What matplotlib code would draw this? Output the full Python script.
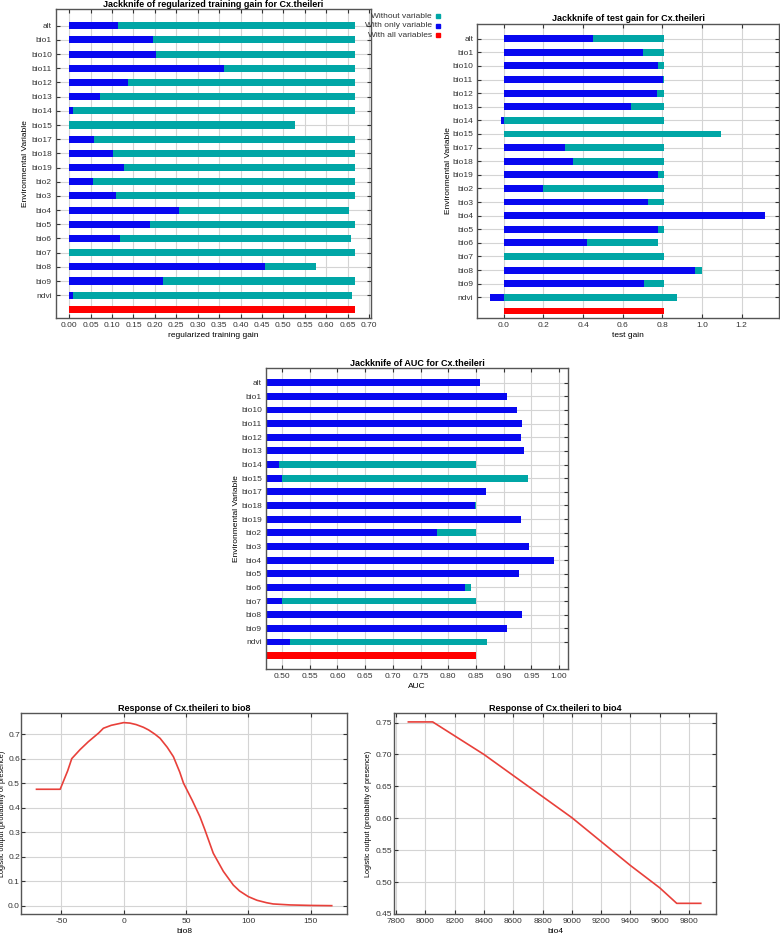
import matplotlib
matplotlib.use('Agg')
import matplotlib.pyplot as plt
from matplotlib.patches import Rectangle
import numpy as np

plt.rcParams['font.family'] = ['Liberation Sans', 'DejaVu Sans']
plt.rcParams['font.size'] = 6
plt.rcParams['axes.unicode_minus'] = False

variables = ['alt', 'bio1', 'bio10', 'bio11', 'bio12', 'bio13', 'bio14', 'bio15', 'bio17', 'bio18',
             'bio19', 'bio2', 'bio3', 'bio4', 'bio5', 'bio6', 'bio7', 'bio8', 'bio9', 'ndvi']

# regularized training gain
train_without = [0.668, 0.668, 0.668, 0.668, 0.668, 0.668, 0.668, 0.527, 0.668, 0.668,
                 0.668, 0.668, 0.668, 0.653, 0.668, 0.657, 0.668, 0.576, 0.668, 0.660]
train_only = [0.114, 0.195, 0.202, 0.361, 0.137, 0.072, 0.009, 0.0, 0.057, 0.102,
              0.128, 0.055, 0.108, 0.257, 0.188, 0.118, 0.0, 0.457, 0.220, 0.009]
train_all = 0.668

# test gain
test_without = [0.807, 0.807, 0.807, 0.807, 0.807, 0.807, 0.807, 1.097, 0.807, 0.807,
                0.807, 0.807, 0.807, 0.677, 0.807, 0.778, 0.807, 0.998, 0.807, 0.874]
test_only = [0.450, 0.702, 0.778, 0.802, 0.773, 0.640, -0.015, 0.0, 0.309, 0.348,
             0.776, 0.197, 0.726, 1.319, 0.776, 0.418, 0.0, 0.963, 0.706, -0.068]
test_all = 0.807

# AUC
auc_without = [0.850, 0.850, 0.850, 0.850, 0.850, 0.850, 0.850, 0.943, 0.850, 0.850,
               0.850, 0.850, 0.850, 0.812, 0.850, 0.841, 0.850, 0.915, 0.850, 0.869]
auc_only = [0.857, 0.906, 0.924, 0.933, 0.931, 0.937, 0.495, 0.500, 0.868, 0.848,
            0.931, 0.779, 0.945, 0.991, 0.927, 0.830, 0.500, 0.933, 0.906, 0.514]
auc_all = 0.850

# response curves
bio8_x = [-70, -51, -45, -41.7, -35, -28.4, -20, -16.3, -10, 0, 5, 10, 15.8, 20, 25, 29.2, 35,
          39.9, 45, 48, 55, 61.2, 65, 71.9, 80, 88, 93, 100, 107, 114.7, 120, 133.5, 150, 167]
bio8_y = [0.475, 0.475, 0.550, 0.600, 0.637, 0.669, 0.705, 0.724, 0.736, 0.747, 0.745, 0.739,
          0.728, 0.717, 0.700, 0.683, 0.646, 0.608, 0.545, 0.500, 0.430, 0.363, 0.312, 0.214,
          0.140, 0.084, 0.060, 0.037, 0.022, 0.012, 0.007, 0.003, 0.001, 0.0]
bio4_x = [7884, 8050, 8400, 9000, 9400, 9600, 9716, 9880]
bio4_y = [0.751, 0.751, 0.700, 0.601, 0.526, 0.491, 0.4667, 0.4667]

TEAL = '#00a6a6'
BLUE = '#0808f0'
RED = '#ff0000'
LINE = '#e8403a'

W, H = 780, 936
fig = plt.figure(figsize=(W / 100, H / 100), dpi=100)


def rect(l, t, r, b):
    return [l / W, 1 - b / H, (r - l) / W, (b - t) / H]


def style(ax):
    ax.grid(True, color='#d4d4d4', linewidth=0.8)
    ax.set_axisbelow(True)
    ax.tick_params(direction='in', length=3, top=True, right=True, labelsize=6,
                   colors='#333333', pad=3)
    for s in ax.spines.values():
        s.set_color('#555555')
        s.set_linewidth(1.0)


def jackknife(ax, without, only, allv, title, xlabel, xlim, ylim, ticks, fmt, ylab_x):
    n = len(variables)
    pos = np.arange(n)
    ax.barh(pos, without, height=0.5, color=TEAL)
    ax.barh(pos, only, height=0.5, color=BLUE)
    ax.barh(n, allv, height=0.5, color=RED)
    ax.set_yticks(pos)
    ax.set_yticklabels(variables)
    ax.set_xticks(ticks)
    ax.set_xticklabels([fmt % t for t in ticks])
    ax.set_xlim(xlim)
    ax.set_ylim(ylim)
    ax.set_title(title, fontsize=6.5, fontweight='bold', pad=2)
    ax.set_xlabel(xlabel, fontsize=6, labelpad=2)
    ax.set_ylabel('Environmental Variable', fontsize=6)
    ax.yaxis.set_label_coords(ylab_x, 0.5)
    style(ax)


ax1 = fig.add_axes(rect(56, 9.3, 370.7, 318.3))
jackknife(ax1, train_without, train_only, train_all,
          'Jackknife of regularized training gain for Cx.theileri', 'regularized training gain',
          (-0.031, 0.704), (20.63, -1.16), np.arange(0, 0.701, 0.05), '%.2f', -0.086)

ax2 = fig.add_axes(rect(477.3, 23.7, 779, 318.3))
jackknife(ax2, test_without, test_only, test_all,
          'Jackknife of test gain for Cx.theileri', 'test gain',
          (-0.133, 1.388), (20.54, -1.10), np.arange(0, 1.21, 0.2), '%.1f', -0.085)

ax3 = fig.add_axes(rect(266, 368.3, 568, 669.3))
jackknife(ax3, auc_without, auc_only, auc_all,
          'Jackknife of AUC for Cx.theileri', 'AUC',
          (0.471, 1.016), (21.0, -1.05), np.arange(0.5, 1.001, 0.05), '%.2f', -0.086)

# legend
legend_items = [('Without variable', TEAL), ('With only variable', BLUE), ('With all variables', RED)]
for k, (lab, col) in enumerate(legend_items):
    y = 16 + k * 9.7
    fig.text(431.7 / W, 1 - y / H, lab, ha='right', va='center', fontsize=6, color='#333333')
    fig.add_artist(Rectangle((435.5 / W, 1 - (y + 2) / H), 4 / W, 4 / H,
                             transform=fig.transFigure, color=col))

ax4 = fig.add_axes(rect(21.3, 713.3, 347.3, 914))
ax4.plot(bio8_x, bio8_y, color=LINE, linewidth=1.2)
ax4.set_xlim(-82.2, 179.5)
ax4.set_ylim(-0.034, 0.785)
ax4.set_xticks([-50, 0, 50, 100, 150])
ax4.set_yticks(np.arange(0, 0.71, 0.1))
ax4.set_yticklabels(['%.1f' % v for v in np.arange(0, 0.71, 0.1)])
ax4.set_title('Response of Cx.theileri to bio8', fontsize=6.5, fontweight='bold', pad=2)
ax4.set_xlabel('bio8', fontsize=6, labelpad=2)
ax4.set_ylabel('Logistic output (probability of presence)', fontsize=5.2)
style(ax4)
ax4.tick_params(axis='y', pad=1)
ax4.yaxis.set_label_coords(-0.048, 0.5)

ax5 = fig.add_axes(rect(394.3, 713.3, 715.7, 914))
ax5.plot(bio4_x, bio4_y, color=LINE, linewidth=1.2)
ax5.set_xlim(7788, 9982)
ax5.set_ylim(0.4535, 0.7645)
ax5.set_xticks(np.arange(7800, 9801, 200))
ax5.set_yticks([0.45, 0.50, 0.55, 0.60, 0.65, 0.70, 0.75])
ax5.set_yticklabels(['0.45', '0.50', '0.55', '0.60', '0.65', '0.70', '0.75'])
ax5.set_title('Response of Cx.theileri to bio4', fontsize=6.5, fontweight='bold', pad=2)
ax5.set_xlabel('bio4', fontsize=6, labelpad=2)
ax5.set_ylabel('Logistic output (probability of presence)', fontsize=5.2)
style(ax5)
ax5.tick_params(axis='y', pad=1.5)
ax5.yaxis.set_label_coords(-0.069, 0.5)

fig.savefig('out.png', dpi=100)
